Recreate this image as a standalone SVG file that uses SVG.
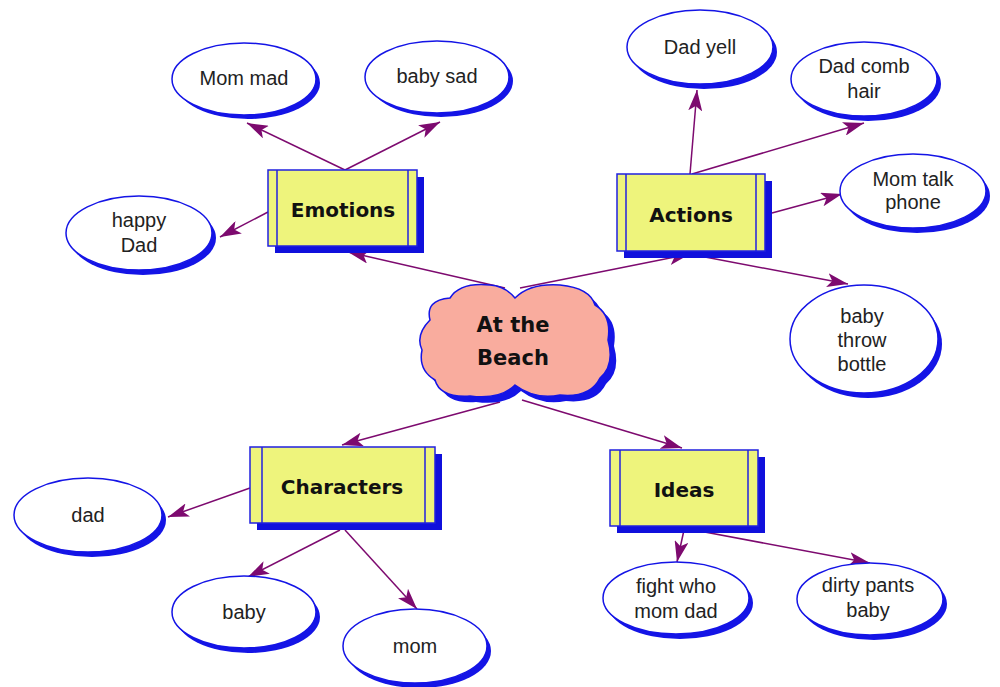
<svg xmlns="http://www.w3.org/2000/svg" width="1000" height="687" viewBox="0 0 1000 687">
<style>
.bg{fill:#ffffff}
.esh{fill:#1414e6}
.ell{fill:#ffffff;stroke:#1414e6;stroke-width:1.5}
.et{font-family:"Liberation Sans",Arial,sans-serif;font-size:20px;fill:#222;text-anchor:middle}
.bsh{fill:#1010dc}
.box{fill:#EEF47C;stroke:#2020e0;stroke-width:1.5}
.bl{stroke:#2020e0;stroke-width:1.5;fill:none}
.bt{font-family:"Comic Sans MS","DejaVu Sans",sans-serif;font-weight:bold;font-size:20px;fill:#111;text-anchor:middle}
.ct{font-family:"DejaVu Sans",sans-serif;font-weight:bold;font-size:21px;fill:#111;text-anchor:middle}
.cn{stroke:#7d0a6f;stroke-width:1.5;fill:none;marker-end:url(#ah)}
</style>
<defs>
<marker id="ah" markerWidth="21" markerHeight="14" refX="21" refY="7" orient="auto" markerUnits="userSpaceOnUse">
<path d="M0,0 L21,7 L0,14 L5,7 Z" fill="#7d0a6f"/>
</marker>
</defs>
<rect class="bg" x="0" y="0" width="1000" height="687"/>

<g id="connectors">
<line class="cn" x1="505" y1="288" x2="348" y2="252"/>
<line class="cn" x1="520" y1="288" x2="690" y2="254"/>
<line class="cn" x1="500" y1="402" x2="342" y2="445"/>
<line class="cn" x1="522" y1="400" x2="682" y2="448"/>
<line class="cn" x1="345" y1="170" x2="247" y2="123"/>
<line class="cn" x1="345" y1="170" x2="440" y2="122"/>
<line class="cn" x1="268" y1="212" x2="220" y2="237"/>
<line class="cn" x1="690" y1="174" x2="697" y2="90"/>
<line class="cn" x1="692" y1="174" x2="864" y2="123"/>
<line class="cn" x1="772" y1="213" x2="842" y2="194"/>
<line class="cn" x1="705" y1="257" x2="848" y2="284"/>
<line class="cn" x1="250" y1="488" x2="168" y2="517"/>
<line class="cn" x1="340" y1="530" x2="248" y2="577"/>
<line class="cn" x1="345" y1="530" x2="417" y2="609"/>
<line class="cn" x1="684" y1="530" x2="677" y2="562"/>
<line class="cn" x1="694" y1="530" x2="870" y2="563"/>
</g>

<g id="center">
<path class="esh" transform="translate(6,6)" d="M430,320 Q425,300 450,298 Q460,282 490,285 Q505,286 515,298 Q530,283 560,285 Q590,288 595,305 Q612,315 608,340 Q615,365 600,378 Q590,398 560,395 Q535,400 515,385 Q500,400 470,396 Q440,398 435,380 Q418,370 422,350 Q415,335 430,320 Z"/>
<path d="M430,320 Q425,300 450,298 Q460,282 490,285 Q505,286 515,298 Q530,283 560,285 Q590,288 595,305 Q612,315 608,340 Q615,365 600,378 Q590,398 560,395 Q535,400 515,385 Q500,400 470,396 Q440,398 435,380 Q418,370 422,350 Q415,335 430,320 Z" fill="#F9AC9E" stroke="#1414e6" stroke-width="1.5"/>
<text class="ct" x="513" y="332">At the</text>
<text class="ct" x="513" y="365">Beach</text>
</g>

<g id="emotions">
<rect class="bsh" x="275" y="177" width="149" height="76"/>
<rect class="box" x="268" y="170" width="149" height="76"/>
<line class="bl" x1="277" y1="170" x2="277" y2="246"/>
<line class="bl" x1="408" y1="170" x2="408" y2="246"/>
<text class="bt" x="343" y="217">Emotions</text>
</g>

<g id="actions">
<rect class="bsh" x="624" y="181" width="148" height="77"/>
<rect class="box" x="617" y="174" width="148" height="77"/>
<line class="bl" x1="626" y1="174" x2="626" y2="251"/>
<line class="bl" x1="756" y1="174" x2="756" y2="251"/>
<text class="bt" x="691" y="222">Actions</text>
</g>

<g id="characters">
<rect class="bsh" x="257" y="454" width="185" height="76"/>
<rect class="box" x="250" y="447" width="185" height="76"/>
<line class="bl" x1="262" y1="447" x2="262" y2="523"/>
<line class="bl" x1="425" y1="447" x2="425" y2="523"/>
<text class="bt" x="342" y="494">Characters</text>
</g>

<g id="ideas">
<rect class="bsh" x="617" y="457" width="148" height="76"/>
<rect class="box" x="610" y="450" width="148" height="76"/>
<line class="bl" x1="620" y1="450" x2="620" y2="526"/>
<line class="bl" x1="748" y1="450" x2="748" y2="526"/>
<text class="bt" x="684" y="497">Ideas</text>
</g>

<g id="mom-mad">
<ellipse class="esh" cx="248" cy="83" rx="72" ry="36"/>
<ellipse class="ell" cx="244" cy="79" rx="72" ry="36"/>
<text class="et" x="244" y="85">Mom mad</text>
</g>
<g id="baby-sad">
<ellipse class="esh" cx="441" cy="81" rx="72" ry="36"/>
<ellipse class="ell" cx="437" cy="77" rx="72" ry="36"/>
<text class="et" x="437" y="83">baby sad</text>
</g>
<g id="happy-dad">
<ellipse class="esh" cx="143" cy="238" rx="73" ry="37"/>
<ellipse class="ell" cx="139" cy="233" rx="73" ry="37"/>
<text class="et" x="139" y="227">happy</text>
<text class="et" x="139" y="252">Dad</text>
</g>
<g id="dad-yell">
<ellipse class="esh" cx="704" cy="52" rx="73" ry="37"/>
<ellipse class="ell" cx="700" cy="47" rx="73" ry="37"/>
<text class="et" x="700" y="54">Dad yell</text>
</g>
<g id="dad-comb-hair">
<ellipse class="esh" cx="868" cy="84" rx="73" ry="37"/>
<ellipse class="ell" cx="864" cy="79" rx="73" ry="37"/>
<text class="et" x="864" y="73">Dad comb</text>
<text class="et" x="864" y="98">hair</text>
</g>
<g id="mom-talk-phone">
<ellipse class="esh" cx="917" cy="196" rx="73" ry="37"/>
<ellipse class="ell" cx="913" cy="191" rx="73" ry="37"/>
<text class="et" x="913" y="186">Mom talk</text>
<text class="et" x="913" y="209">phone</text>
</g>
<g id="baby-throw-bottle">
<ellipse class="esh" cx="868" cy="344" rx="74" ry="54"/>
<ellipse class="ell" cx="864" cy="339" rx="74" ry="54"/>
<text class="et" x="862" y="323">baby</text>
<text class="et" x="862" y="347">throw</text>
<text class="et" x="862" y="371">bottle</text>
</g>
<g id="dad">
<ellipse class="esh" cx="92" cy="520" rx="74" ry="37"/>
<ellipse class="ell" cx="88" cy="515" rx="74" ry="37"/>
<text class="et" x="88" y="522">dad</text>
</g>
<g id="baby">
<ellipse class="esh" cx="248" cy="617" rx="72" ry="36"/>
<ellipse class="ell" cx="244" cy="612" rx="72" ry="36"/>
<text class="et" x="244" y="619">baby</text>
</g>
<g id="mom">
<ellipse class="esh" cx="419" cy="651" rx="72" ry="37"/>
<ellipse class="ell" cx="415" cy="646" rx="72" ry="37"/>
<text class="et" x="415" y="653">mom</text>
</g>
<g id="fight-who-mom-dad">
<ellipse class="esh" cx="680" cy="603" rx="73" ry="36"/>
<ellipse class="ell" cx="676" cy="598" rx="73" ry="36"/>
<text class="et" x="676" y="593">fight who</text>
<text class="et" x="676" y="618">mom dad</text>
</g>
<g id="dirty-pants-baby">
<ellipse class="esh" cx="874" cy="604" rx="73" ry="36"/>
<ellipse class="ell" cx="870" cy="599" rx="73" ry="36"/>
<text class="et" x="868" y="592">dirty pants</text>
<text class="et" x="868" y="617">baby</text>
</g>
</svg>
